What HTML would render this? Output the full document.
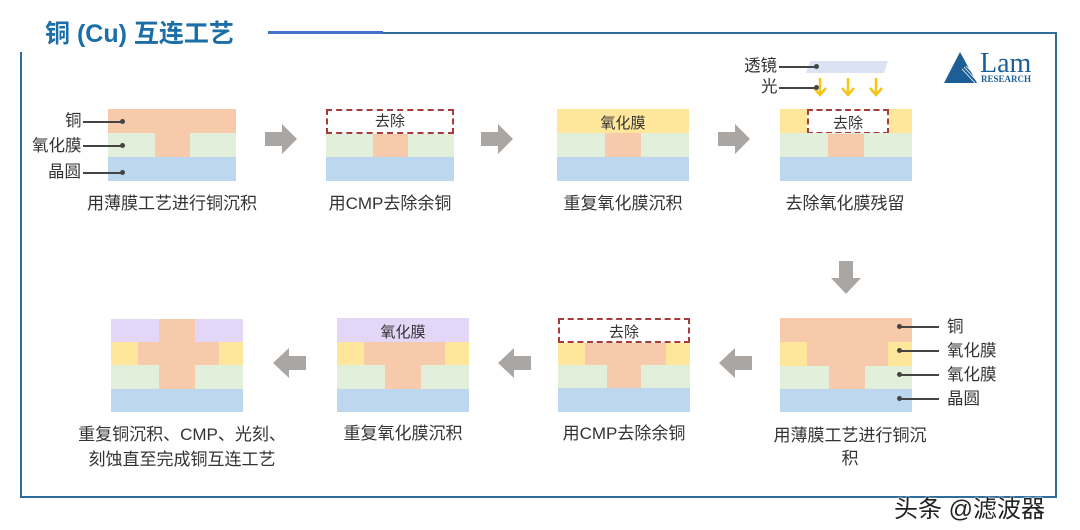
<!DOCTYPE html>
<html><head><meta charset="utf-8"><style>
body{margin:0;width:1080px;height:530px;background:#fff;position:relative;overflow:hidden;font-family:"Liberation Sans","Noto Sans CJK SC",sans-serif;}
div{position:absolute;box-sizing:border-box;}
.c{background:#f6caab}.g{background:#e2efda}.b{background:#bdd7ee}.y{background:#fee69a}.p{background:#e4d6f6}
.d{border:2px dashed #a83a3a;}
.t{font-size:15px;color:#333;text-align:center;line-height:16px;}
.cap{font-size:17px;color:#333;text-align:center;white-space:nowrap;line-height:23px;}
.lbl{font-size:16.5px;color:#333;white-space:nowrap;line-height:17px;}
.ln{height:1.5px;background:#444;}
.dot{width:5px;height:5px;border-radius:50%;background:#444;}
</style></head><body>
<div style="left:45px;top:18px;font-size:25px;font-weight:bold;color:#1b6ea7;white-space:nowrap;line-height:32px;">铜 (Cu) 互连工艺</div>
<div style="left:268px;top:32px;width:789px;height:1.5px;background:#2e6c9a;"></div>
<div style="left:268px;top:31px;width:115px;height:3px;background:#4472c4;"></div>
<div style="left:1055px;top:32px;width:2px;height:466px;background:#2e6c9a;"></div>
<div style="left:20px;top:52px;width:2px;height:446px;background:#2e6c9a;"></div>
<div style="left:20px;top:496px;width:1037px;height:2px;background:#2e6c9a;"></div>

<!-- Lam logo -->
<svg style="position:absolute;left:943px;top:48px" width="100" height="38">
<polygon points="17,4 1,35 34,35" fill="#1b5f96"/>
<path d="M19,21 L32,35 M21,19 L33,32 M23,18 L34,29" stroke="#fff" stroke-width="0.8"/>
<text x="37" y="24" font-family="Liberation Serif" font-size="28" fill="#1b5f96">Lam</text>
<text x="38" y="34" font-family="Liberation Serif" font-size="9" font-weight="bold" fill="#1b5f96">RESEARCH</text>
</svg>

<!-- Panel 1 -->
<div class="c" style="left:108px;top:109px;width:128px;height:24px"></div>
<div class="g" style="left:108px;top:133px;width:128px;height:24px"></div>
<div class="c" style="left:155px;top:133px;width:35px;height:24px"></div>
<div class="b" style="left:108px;top:157px;width:128px;height:24px"></div>
<div class="lbl" style="left:65px;top:113px">铜</div>
<div class="lbl" style="left:32px;top:138px">氧化膜</div>
<div class="lbl" style="left:48px;top:164px">晶圆</div>
<div class="ln" style="left:83px;top:121px;width:39px"></div><div class="dot" style="left:120px;top:119px"></div>
<div class="ln" style="left:83px;top:145px;width:39px"></div><div class="dot" style="left:120px;top:143px"></div>
<div class="ln" style="left:83px;top:172px;width:39px"></div><div class="dot" style="left:120px;top:170px"></div>
<div class="cap" style="left:72px;top:192px;width:200px">用薄膜工艺进行铜沉积</div>

<!-- arrows row1 -->
<svg style="position:absolute;left:265px;top:124px" width="34" height="32"><polygon points="0,8 17,8 17,0 32,15 17,30 17,22 0,22" fill="#aaa6a4"/></svg>
<svg style="position:absolute;left:481px;top:124px" width="34" height="32"><polygon points="0,8 17,8 17,0 32,15 17,30 17,22 0,22" fill="#aaa6a4"/></svg>
<svg style="position:absolute;left:718px;top:124px" width="34" height="32"><polygon points="0,8 17,8 17,0 32,15 17,30 17,22 0,22" fill="#aaa6a4"/></svg>

<!-- Panel 2 -->
<div class="d" style="left:326px;top:109px;width:128px;height:25px"></div>
<div class="t" style="left:326px;top:114px;width:128px">去除</div>
<div class="g" style="left:326px;top:134px;width:128px;height:23px"></div>
<div class="c" style="left:373px;top:134px;width:35px;height:23px"></div>
<div class="b" style="left:326px;top:157px;width:128px;height:24px"></div>
<div class="cap" style="left:290px;top:192px;width:200px">用CMP去除余铜</div>

<!-- Panel 3 -->
<div class="y" style="left:557px;top:109px;width:132px;height:24px"></div>
<div class="t" style="left:557px;top:116px;width:132px">氧化膜</div>
<div class="g" style="left:557px;top:133px;width:132px;height:24px"></div>
<div class="c" style="left:605px;top:133px;width:36px;height:24px"></div>
<div class="b" style="left:557px;top:157px;width:132px;height:24px"></div>
<div class="cap" style="left:523px;top:192px;width:200px">重复氧化膜沉积</div>

<!-- Panel 4 -->
<svg style="position:absolute;left:800px;top:58px" width="95" height="42">
<polygon points="10,3 88,3 84,15 6,15" fill="#dbe2f3"/>
<g stroke="#f5c518" stroke-width="2.5" fill="none"><path d="M20,20 V36 M14,30 L20,37 L26,30"/><path d="M48,20 V36 M42,30 L48,37 L54,30"/><path d="M76,20 V36 M70,30 L76,37 L82,30"/></g>
</svg>
<div class="lbl" style="left:744px;top:58px">透镜</div>
<div class="lbl" style="left:761px;top:79px">光</div>
<div class="ln" style="left:779px;top:66px;width:37px"></div><div class="dot" style="left:814px;top:64px"></div>
<div class="ln" style="left:779px;top:87px;width:37px"></div><div class="dot" style="left:814px;top:85px"></div>
<div class="y" style="left:780px;top:109px;width:132px;height:24px"></div>
<div style="left:807px;top:109px;width:82px;height:25px;background:#fff" class="d"></div>
<div class="t" style="left:807px;top:116px;width:82px">去除</div>
<div class="g" style="left:780px;top:133px;width:132px;height:24px"></div>
<div class="c" style="left:828px;top:134px;width:36px;height:23px"></div>
<div class="b" style="left:780px;top:157px;width:132px;height:24px"></div>
<div class="cap" style="left:745px;top:192px;width:200px">去除氧化膜残留</div>

<!-- down arrow -->
<svg style="position:absolute;left:830px;top:261px" width="32" height="36"><polygon points="9,0 23,0 23,17 31,17 16,33 1,17 9,17" fill="#aaa6a4"/></svg>

<!-- Panel R2 -->
<div class="c" style="left:780px;top:318px;width:132px;height:24px"></div>
<div class="y" style="left:780px;top:342px;width:132px;height:24px"></div>
<div class="c" style="left:807px;top:342px;width:81px;height:24px"></div>
<div class="g" style="left:780px;top:366px;width:132px;height:23px"></div>
<div class="c" style="left:829px;top:366px;width:36px;height:23px"></div>
<div class="b" style="left:780px;top:389px;width:132px;height:23px"></div>
<div class="dot" style="left:897px;top:324px"></div><div class="ln" style="left:899px;top:326px;width:40px"></div>
<div class="dot" style="left:897px;top:348px"></div><div class="ln" style="left:899px;top:350px;width:40px"></div>
<div class="dot" style="left:897px;top:372px"></div><div class="ln" style="left:899px;top:374px;width:40px"></div>
<div class="dot" style="left:897px;top:396px"></div><div class="ln" style="left:899px;top:398px;width:40px"></div>
<div class="lbl" style="left:947px;top:319px">铜</div>
<div class="lbl" style="left:947px;top:343px">氧化膜</div>
<div class="lbl" style="left:947px;top:367px">氧化膜</div>
<div class="lbl" style="left:947px;top:391px">晶圆</div>
<div class="cap" style="left:750px;top:424px;width:200px">用薄膜工艺进行铜沉<br>积</div>

<!-- left arrows row2 -->
<svg style="position:absolute;left:718px;top:348px" width="34" height="32"><polygon points="34,8 17,8 17,0 1,15 17,30 17,22 34,22" fill="#aaa6a4"/></svg>
<svg style="position:absolute;left:497px;top:348px" width="34" height="32"><polygon points="34,8 17,8 17,0 1,15 17,30 17,22 34,22" fill="#aaa6a4"/></svg>
<svg style="position:absolute;left:272px;top:348px" width="34" height="32"><polygon points="34,8 17,8 17,0 1,15 17,30 17,22 34,22" fill="#aaa6a4"/></svg>

<!-- Panel 6 -->
<div class="d" style="left:558px;top:318px;width:132px;height:25px"></div>
<div class="t" style="left:558px;top:325px;width:132px">去除</div>
<div class="y" style="left:558px;top:343px;width:132px;height:22px"></div>
<div class="c" style="left:585px;top:343px;width:81px;height:22px"></div>
<div class="g" style="left:558px;top:365px;width:132px;height:23px"></div>
<div class="c" style="left:607px;top:365px;width:34px;height:23px"></div>
<div class="b" style="left:558px;top:388px;width:132px;height:24px"></div>
<div class="cap" style="left:524px;top:422px;width:200px">用CMP去除余铜</div>

<!-- Panel 5 -->
<div class="p" style="left:337px;top:318px;width:132px;height:24px"></div>
<div class="t" style="left:337px;top:325px;width:132px">氧化膜</div>
<div class="y" style="left:337px;top:342px;width:132px;height:23px"></div>
<div class="c" style="left:364px;top:342px;width:81px;height:23px"></div>
<div class="g" style="left:337px;top:365px;width:132px;height:24px"></div>
<div class="c" style="left:385px;top:365px;width:36px;height:24px"></div>
<div class="b" style="left:337px;top:389px;width:132px;height:23px"></div>
<div class="cap" style="left:303px;top:422px;width:200px">重复氧化膜沉积</div>

<!-- Panel 7 -->
<div class="p" style="left:111px;top:319px;width:132px;height:23px"></div>
<div class="c" style="left:159px;top:319px;width:36px;height:23px"></div>
<div class="y" style="left:111px;top:342px;width:132px;height:23px"></div>
<div class="c" style="left:138px;top:342px;width:81px;height:23px"></div>
<div class="g" style="left:111px;top:365px;width:132px;height:24px"></div>
<div class="c" style="left:159px;top:365px;width:36px;height:24px"></div>
<div class="b" style="left:111px;top:389px;width:132px;height:23px"></div>
<div class="cap" style="left:57px;top:422px;width:250px;line-height:25px">重复铜沉积、CMP、光刻、<br>刻蚀直至完成铜互连工艺</div>

<div style="left:894px;top:495px;font-size:24px;color:#222;white-space:nowrap;line-height:30px;text-shadow:0 0 2px #fff,0 0 2px #fff;">头条 @滤波器</div>
</body></html>
